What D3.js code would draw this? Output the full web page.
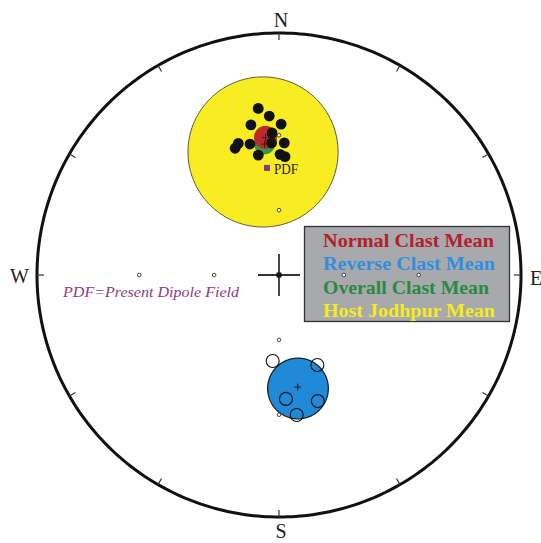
<!DOCTYPE html>
<html>
<head>
<meta charset="utf-8">
<script src="https://cdn.jsdelivr.net/npm/d3@7"></script>
<style>
  html, body { margin: 0; padding: 0; background: #fff; }
  svg { display: block; }
</style>
</head>
<body>
<script>
// individual directions, normal polarity (lower hemisphere, filled)
normalDec = [352.9, 356.5, 349.4, 0.8, 357.2, 356.8, 2.3, 342.8, 340.9, 347.5, 350.2, 0.5, 2.9];
normalInc = [20.5, 23.3, 25.5, 26.1, 29.1, 32.7, 32.7, 30.7, 32.0, 32.0, 36.6, 37.0, 37.8];
// individual directions, reverse polarity (upper hemisphere, open)
reverseDec = [184.2, 156.9, 176.8, 162.9, 172.8];
reverseInc = [-50.8, -46.0, -35.7, -32.8, -29.5];
// means with a95 cones
meanNames = ['Host Jodhpur Mean', 'Overall Clast Mean', 'Normal Clast Mean', 'Reverse Clast Mean'];
meanDec = [352.6, 353.7, 354.4, 170.5];
meanInc = [39.1, 32.9, 30.6, -39.7];
meanA95 = [28.0, 3.8, 4.1, 11.7];
// grid marks along the axes (inclination 30 and 60)
gridDec = [0, 0, 90, 90, 180, 180, 270, 270];
gridInc = [30, 60, 30, 60, 30, 60, 30, 60];
// present dipole field
pdfDec = 353.6;
pdfInc = 42.0;
// legend
legendNames = ['Normal Clast Mean', 'Reverse Clast Mean', 'Overall Clast Mean', 'Host Jodhpur Mean'];
tickAz = [0, 30, 60, 90, 120, 150, 180, 210, 240, 270, 300, 330];

colors = {
  'Normal Clast Mean': '#c1272d',
  'Reverse Clast Mean': '#2089d8',
  'Overall Clast Mean': '#2c9a47',
  'Host Jodhpur Mean': '#f8ec22'
};
legendColors = ['#b3202c', '#2f8fde', '#2a8a3e', '#f6eb1c'];

width = 541;
height = 543;
cx = 279;
cy = 275;
R = 242;

svg = d3.select('body').append('svg')
  .attr('width', width)
  .attr('height', height);

// стереографическая проекция, центр = вертикаль
proj = d3.geoStereographic()
  .rotate([0, -90])
  .scale(R)
  .translate([cx, cy])
  .clipAngle(150);
path = d3.geoPath(proj);

// склонение/наклонение -> координаты
function pt(dec, inc) {
  return proj([180 - dec, Math.abs(inc)]);
}

// means cones
meanNames.forEach((name, i) => {
  circle = d3.geoCircle().center([180 - meanDec[i], Math.abs(meanInc[i])]).radius(meanA95[i]).precision(2);
  svg.append('path')
    .attr('d', path(circle()))
    .attr('fill', colors[name])
    .attr('stroke', name == 'Host Jodhpur Mean' ? '#333' : (name == 'Reverse Clast Mean' ? '#222' : 'none'))
    .attr('stroke-width', name == 'Reverse Clast Mean' ? 1.3 : 0.8);
});

// primitive circle
svg.append('path')
  .attr('d', path(d3.geoCircle().center([0, 90]).radius(90).precision(1)()))
  .attr('fill', 'none')
  .attr('stroke', '#111')
  .attr('stroke-width', 3);

// ticks every 30 degrees
center = proj([0, 90]);
tickAz.forEach((az) => {
  p = proj([180 - az, 0]);
  dx = (center[0] - p[0]) / R;
  dy = (center[1] - p[1]) / R;
  svg.append('line')
    .attr('x1', p[0]).attr('y1', p[1])
    .attr('x2', p[0] + dx * 7).attr('y2', p[1] + dy * 7)
    .attr('stroke', '#333')
    .attr('stroke-width', 1.2);
});

// center cross
svg.append('line').attr('x1', center[0] - 21).attr('x2', center[0] + 21)
  .attr('y1', center[1]).attr('y2', center[1]).attr('stroke', '#333').attr('stroke-width', 1.8);
svg.append('line').attr('x1', center[0]).attr('x2', center[0])
  .attr('y1', center[1] - 21).attr('y2', center[1] + 21).attr('stroke', '#333').attr('stroke-width', 1.8);
svg.append('rect').attr('x', center[0] - 2.5).attr('y', center[1] - 2.5)
  .attr('width', 5).attr('height', 5).attr('fill', '#111');

// legend box
svg.append('rect')
  .attr('x', 304.5).attr('y', 226.5)
  .attr('width', 205).attr('height', 95)
  .attr('fill', '#a7a9ac')
  .attr('stroke', '#333')
  .attr('stroke-width', 1.3);

// grid marks
svg.selectAll('.grid')
  .data(gridDec)
  .enter().append('circle')
  .attr('cx', (d, i) => pt(d, gridInc[i])[0])
  .attr('cy', (d, i) => pt(d, gridInc[i])[1])
  .attr('r', 1.8)
  .attr('fill', '#fff')
  .attr('stroke', '#333')
  .attr('stroke-width', 0.9);

// normal directions
svg.selectAll('.normal')
  .data(normalDec)
  .enter().append('circle')
  .attr('cx', (d, i) => pt(d, normalInc[i])[0])
  .attr('cy', (d, i) => pt(d, normalInc[i])[1])
  .attr('r', 5.4)
  .attr('fill', '#111');

// reverse directions
svg.selectAll('.reverse')
  .data(reverseDec)
  .enter().append('circle')
  .attr('cx', (d, i) => pt(d, reverseInc[i])[0])
  .attr('cy', (d, i) => pt(d, reverseInc[i])[1])
  .attr('r', 6.5)
  .attr('fill', 'none')
  .attr('stroke', '#111')
  .attr('stroke-width', 1.1);

// mean crosses (not for the host)
meanNames.forEach((name, i) => {
  if (name == 'Host Jodhpur Mean') return;
  p = pt(meanDec[i], meanInc[i]);
  svg.append('path')
    .attr('d', 'M' + (p[0] - 3.5) + ',' + p[1] + 'H' + (p[0] + 3.5) + 'M' + p[0] + ',' + (p[1] - 3.5) + 'V' + (p[1] + 3.5))
    .attr('stroke', '#222')
    .attr('stroke-width', 1);
});

// PDF
pp = pt(pdfDec, pdfInc);
svg.append('rect')
  .attr('x', pp[0] - 3).attr('y', pp[1] - 3)
  .attr('width', 6).attr('height', 6)
  .attr('fill', '#8e3a80');
svg.append('text')
  .attr('x', pp[0] + 7).attr('y', pp[1] + 6)
  .attr('font-family', 'Liberation Serif, serif')
  .attr('font-size', 14)
  .attr('fill', '#222')
  .attr('textLength', 24)
  .attr('lengthAdjust', 'spacingAndGlyphs')
  .text('PDF');

svg.append('text')
  .attr('x', 63).attr('y', 297)
  .attr('font-family', 'Liberation Serif, serif')
  .attr('font-style', 'italic')
  .attr('font-size', 15.5)
  .attr('fill', '#8e3a80')
  .attr('textLength', 176)
  .attr('lengthAdjust', 'spacingAndGlyphs')
  .text('PDF=Present Dipole Field');

// legend text
svg.selectAll('.leg')
  .data(legendNames)
  .enter().append('text')
  .attr('x', 323)
  .attr('y', (d, i) => 247 + i * 23.3)
  .attr('font-family', 'Liberation Serif, serif')
  .attr('font-weight', 'bold')
  .attr('font-size', 19)
  .attr('fill', (d, i) => legendColors[i])
  .attr('textLength', (d, i) => [171, 172, 166, 172][i])
  .attr('lengthAdjust', 'spacingAndGlyphs')
  .text((d) => d);

// compass labels
compass = [
  {t: 'N', x: 281, y: 27},
  {t: 'S', x: 281, y: 538},
  {t: 'W', x: 19.5, y: 283},
  {t: 'E', x: 536, y: 285}
];
svg.selectAll('.dir')
  .data(compass)
  .enter().append('text')
  .attr('x', (d) => d.x)
  .attr('y', (d) => d.y)
  .attr('text-anchor', 'middle')
  .attr('font-family', 'Liberation Serif, serif')
  .attr('font-size', 20)
  .attr('fill', '#222')
  .text((d) => d.t);
</script>
</body>
</html>
